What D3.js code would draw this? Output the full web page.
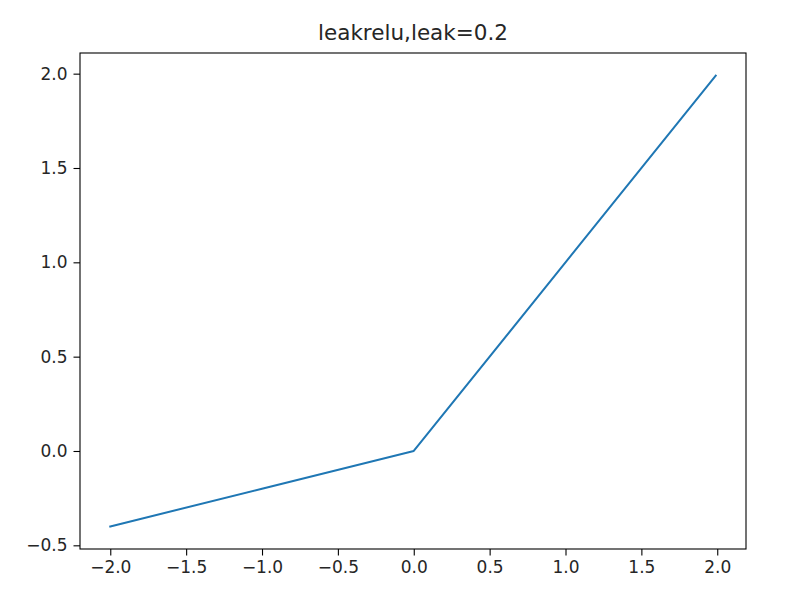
<!DOCTYPE html>
<html>
<head>
<meta charset="utf-8">
<script src="https://cdn.jsdelivr.net/npm/d3@7"></script>
<style>
  html, body { margin: 0; padding: 0; background: #fff; }
  svg { display: block; }
  text { font-family: "DejaVu Sans", sans-serif; fill: #262626; }
</style>
</head>
<body>
<script>
// Data
const title = "leakrelu,leak=0.2";
const xValues = [-2, -1, 0, 1, 1.99];
const yValues = [-0.4, -0.2, 0, 1, 1.99];
const xTicks = [-2.0, -1.5, -1.0, -0.5, 0.0, 0.5, 1.0, 1.5, 2.0];
const yTicks = [-0.5, 0.0, 0.5, 1.0, 1.5, 2.0];

const W = 786, H = 599;
const margin = { left: 80, right: 40, top: 53, bottom: 50 };

const svg = d3.select("body").append("svg").attr("width", W).attr("height", H);

const x = d3.scaleLinear().domain([-2.1995, 2.1895]).range([margin.left, W - margin.right]);
const y = d3.scaleLinear().domain([-0.5195, 2.1095]).range([H - margin.bottom, margin.top]);

const fmt = v => (v < 0 ? "\u2212" : "") + Math.abs(v).toFixed(1);

// line
const pts = xValues.map((v, i) => [v, yValues[i]]);
svg.append("path")
  .datum(pts)
  .attr("d", d3.line().x(d => x(d[0])).y(d => y(d[1])))
  .attr("fill", "none")
  .attr("stroke", "#1f77b4")
  .attr("stroke-width", 2)
  .attr("stroke-linejoin", "round")
  .attr("stroke-linecap", "square");

// axes
const xAxis = d3.axisBottom(x).tickValues(xTicks).tickFormat(fmt).tickSize(6.5).tickPadding(5);
const yAxis = d3.axisLeft(y).tickValues(yTicks).tickFormat(fmt).tickSize(6.5).tickPadding(6);

const gx = svg.append("g").attr("transform", `translate(0,${H - margin.bottom})`).call(xAxis);
const gy = svg.append("g").attr("transform", `translate(${margin.left},0)`).call(yAxis);
[gx, gy].forEach(g => {
  g.select(".domain").remove();
  g.selectAll(".tick line").attr("stroke", "#000").attr("stroke-width", 1.1);
  g.selectAll(".tick text").attr("font-size", 17).attr("font-family", "DejaVu Sans").attr("fill", "#262626");
});

// frame
svg.append("rect")
  .attr("x", margin.left).attr("y", margin.top)
  .attr("width", W - margin.right - margin.left)
  .attr("height", H - margin.bottom - margin.top)
  .attr("fill", "none").attr("stroke", "#000").attr("stroke-width", 1.1);

// title
svg.append("text")
  .attr("x", (margin.left + W - margin.right) / 2)
  .attr("y", 40)
  .attr("text-anchor", "middle")
  .attr("font-size", 21.5)
  .text(title);
</script>
</body>
</html>
